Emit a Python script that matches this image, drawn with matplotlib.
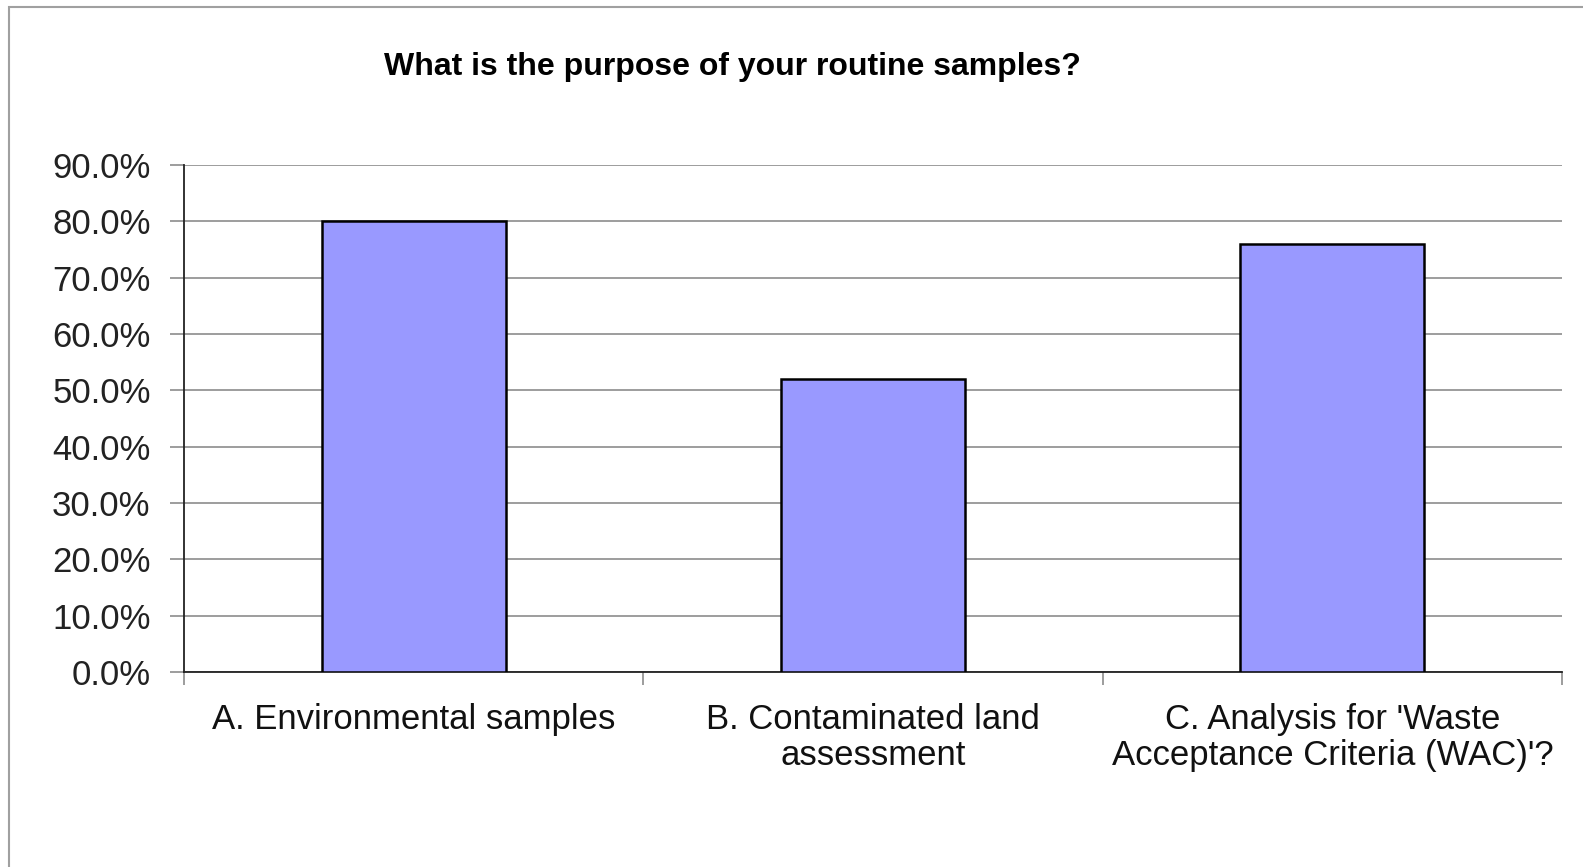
import matplotlib.pyplot as plt
from matplotlib.patches import Rectangle
from matplotlib.ticker import FuncFormatter

# Survey answers
categories = ["A. Environmental samples",
              "B. Contaminated land\nassessment",
              "C. Analysis for 'Waste\nAcceptance Criteria (WAC)'?"]
percentages = [80.0, 52.0, 76.0]
y_ticks = [0, 10, 20, 30, 40, 50, 60, 70, 80, 90]

plt.rcParams['font.family'] = ['Liberation Sans', 'DejaVu Sans']

fig = plt.figure(figsize=(15.83, 8.67), dpi=100)

# grey outer chart frame (runs off the right and bottom edges)
fig.patches.append(Rectangle((9 / 1583, -0.05), 1.2, 1 - 7 / 867 + 0.05,
                             transform=fig.transFigure, fill=False,
                             edgecolor='#a0a0a0', linewidth=1.5))

ax = fig.add_axes([184 / 1583, 1 - 672 / 867, (1562 - 184) / 1583, (672 - 165) / 867])

x = list(range(len(categories)))
ax.bar(x, percentages, width=0.4, color='#9999ff', edgecolor='black',
       linewidth=1.8, zorder=3)

ax.set_xlim(-0.5, len(categories) - 0.5)
ax.set_ylim(0, 90)
ax.set_yticks(y_ticks)
ax.yaxis.set_major_formatter(FuncFormatter(lambda v, p: f"{v:.1f}%"))
ax.grid(axis='y', color='#8c8c8c', linewidth=1.2, zorder=0)

ax.set_xticks(x)
ax.set_xticklabels(categories, fontsize=25, linespacing=1.15, color='#111111')
ax.set_xticks([-0.5, 0.5, 1.5, 2.5], minor=True)
ax.tick_params(axis='x', which='major', length=0, pad=22)
ax.tick_params(axis='x', which='minor', length=9, color='#8c8c8c', width=1.2)
ax.tick_params(axis='y', labelsize=25, length=10, color='#8c8c8c', width=1.2,
               pad=14, labelcolor='#222222')

for side in ['top', 'right']:
    ax.spines[side].set_visible(False)
ax.spines['left'].set_color('#222222')
ax.spines['bottom'].set_color('#222222')
ax.spines['left'].set_linewidth(1.3)
ax.spines['bottom'].set_linewidth(1.3)

fig.text(732 / 1583, 1 - 67 / 867, "What is the purpose of your routine samples?",
         ha='center', va='center', fontsize=23, fontweight='bold')

fig.savefig('out.png', dpi=100)
